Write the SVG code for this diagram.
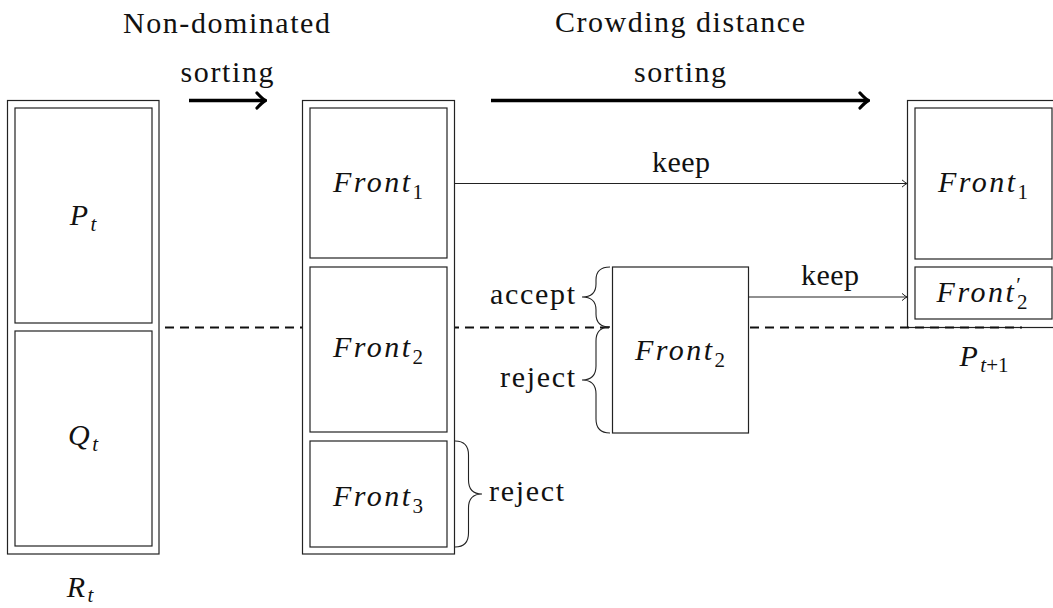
<svg xmlns="http://www.w3.org/2000/svg" width="1053" height="608" viewBox="0 0 1053 608">
  <style>
    .box { fill: #fff; stroke: #222; stroke-width: 1.2; }
    text { font-family: "Liberation Serif", "Times New Roman", serif; }
    .txt { font-size: 30px; fill: #111; }
    .math { font-size: 30px; font-style: italic; fill: #111; letter-spacing: 2.5px; }
    .sub { font-size: 21px; font-style: normal; letter-spacing: 0; }
    .subi { font-size: 21px; font-style: italic; letter-spacing: 0; }
    .thin { stroke: #222; stroke-width: 1.1; fill: none; }
    .thick { stroke: #000; stroke-width: 3.6; fill: none; }
    .brace { stroke: #222; stroke-width: 1.1; fill: none; }
    .dash { stroke: #111; stroke-width: 2; stroke-dasharray: 9 6; fill: none; }
  </style>
  <defs>
    <marker id="to" viewBox="-6 -5 8 10" markerWidth="8" markerHeight="10" refX="0" refY="0" orient="auto" markerUnits="userSpaceOnUse">
      <path d="M -5 -3.6 Q -1.5 -0.6 0 0 Q -1.5 0.6 -5 3.6" fill="none" stroke="#222" stroke-width="1"/>
    </marker>
    <marker id="toThick" viewBox="-12 -10 14 20" markerWidth="14" markerHeight="20" refX="0" refY="0" orient="auto" markerUnits="userSpaceOnUse">
      <path d="M -8 -7.5 Q -2.5 -1.5 0.5 0 Q -2.5 1.5 -8 7.5" fill="none" stroke="#000" stroke-width="3.2" stroke-linecap="round"/>
    </marker>
  </defs>

  <!-- next population P_{t+1}; its bottom border sits under the dashed split line -->
  <g id="node-pnext">
    <rect class="box" x="907.5" y="100.5" width="155" height="227"/>
    <rect class="box" x="915" y="108" width="137" height="151"/>
    <rect class="box" x="915" y="267" width="137" height="52"/>
    <text class="math" x="983" y="192" text-anchor="middle">Front<tspan class="sub" dy="7">1</tspan></text>
    <text class="math" x="982" y="302" text-anchor="middle">Front<tspan class="sub" dx="0" dy="-10">′</tspan><tspan class="sub" dx="-4" dy="17">2</tspan></text>
    <text class="math" x="984" y="366" text-anchor="middle">P<tspan class="subi" dy="6">t</tspan><tspan class="sub">+1</tspan></text>
  </g>

  <g id="connectors">
    <!-- split between the parent and offspring halves -->
    <line class="dash" x1="165" y1="327.5" x2="1022" y2="327.5"/>
    <!-- sorting steps -->
    <line class="thick" x1="189" y1="100.5" x2="265" y2="100.5" marker-end="url(#toThick)"/>
    <line class="thick" x1="491" y1="100.5" x2="868" y2="100.5" marker-end="url(#toThick)"/>
    <!-- keep arrows -->
    <line class="thin" x1="454" y1="183.5" x2="907" y2="183.5" marker-end="url(#to)"/>
    <line class="thin" x1="748" y1="297" x2="907" y2="297" marker-end="url(#to)"/>
    <!-- braces -->
    <path class="brace" d="M 610 267 Q 596 267 596 280 L 596 284 Q 596 297 582 297 Q 596 297 596 310 L 596 314 Q 596 327 610 327"/>
    <path class="brace" d="M 610 327 Q 596 327 596 341 L 596 366 Q 596 380 582 380 Q 596 380 596 394 L 596 419 Q 596 433 610 433"/>
    <path class="brace" d="M 455 441 Q 468.5 441 468.5 455 L 468.5 480 Q 468.5 494 482 494 Q 468.5 494 468.5 508 L 468.5 533 Q 468.5 547 455 547"/>
  </g>

  <!-- step labels -->
  <g id="labels">
    <text class="txt" x="226.5" y="33" text-anchor="middle" textLength="207" lengthAdjust="spacing">Non-dominated</text>
    <text class="txt" x="227" y="82" text-anchor="middle" textLength="93" lengthAdjust="spacing">sorting</text>
    <text class="txt" x="680" y="32" text-anchor="middle" textLength="250" lengthAdjust="spacing">Crowding distance</text>
    <text class="txt" x="680" y="82" text-anchor="middle" textLength="92" lengthAdjust="spacing">sorting</text>
    <text class="txt" x="681" y="172" text-anchor="middle" textLength="58" lengthAdjust="spacing">keep</text>
    <text class="txt" x="830" y="285" text-anchor="middle" textLength="58" lengthAdjust="spacing">keep</text>
    <text class="txt" x="575" y="304" text-anchor="end" textLength="85" lengthAdjust="spacing">accept</text>
    <text class="txt" x="575" y="387" text-anchor="end" textLength="75" lengthAdjust="spacing">reject</text>
    <text class="txt" x="489" y="501" textLength="75" lengthAdjust="spacing">reject</text>
  </g>

  <!-- combined population R_t -->
  <g id="node-rt">
    <rect class="box" x="7.5" y="100.5" width="151.5" height="453.5"/>
    <rect class="box" x="15" y="108" width="137" height="215"/>
    <rect class="box" x="15" y="331" width="137" height="215"/>
    <text class="math" x="83" y="225" text-anchor="middle">P<tspan class="subi" dy="6">t</tspan></text>
    <text class="math" x="83" y="445" text-anchor="middle">Q<tspan class="subi" dy="6">t</tspan></text>
    <text class="math" x="80" y="597" text-anchor="middle">R<tspan class="subi" dy="5">t</tspan></text>
  </g>

  <!-- fronts after non-dominated sorting -->
  <g id="node-fronts">
    <rect class="box" x="302.5" y="100.5" width="152" height="453.5"/>
    <rect class="box" x="310" y="108" width="137" height="150"/>
    <rect class="box" x="310" y="267" width="137" height="165"/>
    <rect class="box" x="310" y="441" width="137" height="106"/>
    <text class="math" x="378" y="192" text-anchor="middle">Front<tspan class="sub" dy="7">1</tspan></text>
    <text class="math" x="378" y="357" text-anchor="middle">Front<tspan class="sub" dy="7">2</tspan></text>
    <text class="math" x="378" y="506" text-anchor="middle">Front<tspan class="sub" dy="7">3</tspan></text>
  </g>

  <!-- front split by crowding distance -->
  <g id="node-front2">
    <rect class="box" x="612.5" y="267" width="136" height="166"/>
    <text class="math" x="680" y="360" text-anchor="middle">Front<tspan class="sub" dy="7">2</tspan></text>
  </g>
</svg>
